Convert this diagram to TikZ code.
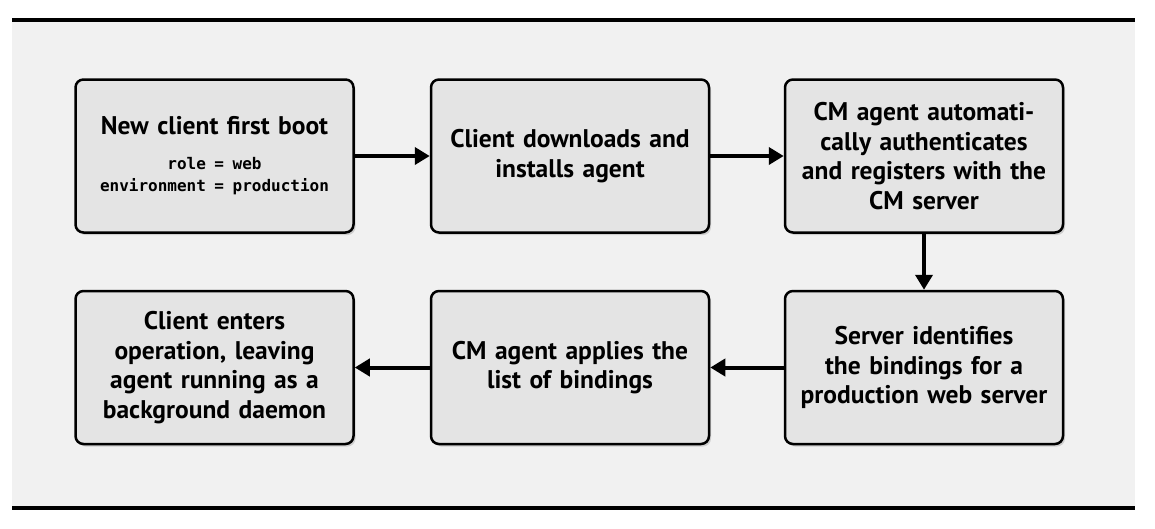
\documentclass[tikz,border=0pt]{standalone}
\usepackage{fontspec}
\setmainfont{PT Sans}
\setmonofont{DejaVu Sans Mono}
\usetikzlibrary{shadows,arrows.meta}
\definecolor{bg}{HTML}{F1F1F1}
\definecolor{boxfill}{HTML}{E4E4E4}
\begin{document}
\begin{tikzpicture}[x=1pt,y=-1pt,
  stepbox/.style={draw=black, line width=2.5pt, rounded corners=8pt, fill=boxfill,
    minimum width=278pt, minimum height=153pt, text width=266pt, align=center,
    inner sep=0pt,
    font=\bfseries\fontsize{25.5}{29.5}\selectfont,
    drop shadow={shadow xshift=2pt, shadow yshift=-2.5pt, opacity=0.3}},
  flow/.style={line width=4pt, -{Triangle[length=15pt,width=17pt]}},
  rule/.style={line width=4pt}]
\useasboundingbox (0,0) rectangle (1155,528);
\fill[white] (0,0) rectangle (1155,528);
\fill[bg] (12,20) rectangle (1135,508);
\draw[rule] (12,20) -- (1135,20);
\draw[rule] (12,508) -- (1135,508);

\node[stepbox] (b1) at (214.5,156) {New client first boot\par\vspace{13pt}{\ttfamily\fontsize{16}{22}\selectfont role = web\\environment = production\par}\vspace{4pt}};
\node[stepbox] (b2) at (570,156) {Client downloads and\\installs agent};
\node[stepbox] (b3) at (924,156) {CM agent automati-\\cally authenticates\\and registers with the\\CM server};
\node[stepbox] (b4) at (924,367.5) {Server identifies\\the bindings for a\\production web server};
\node[stepbox] (b5) at (570,367.5) {CM agent applies the\\list of bindings};
\node[stepbox] (b6) at (214.5,367.5) {Client enters\\operation, leaving\\agent running as a\\background daemon};

\draw[flow] (b1) -- (b2);
\draw[flow] (b2) -- (b3);
\draw[flow] (b3) -- (b4);
\draw[flow] (b4) -- (b5);
\draw[flow] (b5) -- (b6);
\end{tikzpicture}
\end{document}
